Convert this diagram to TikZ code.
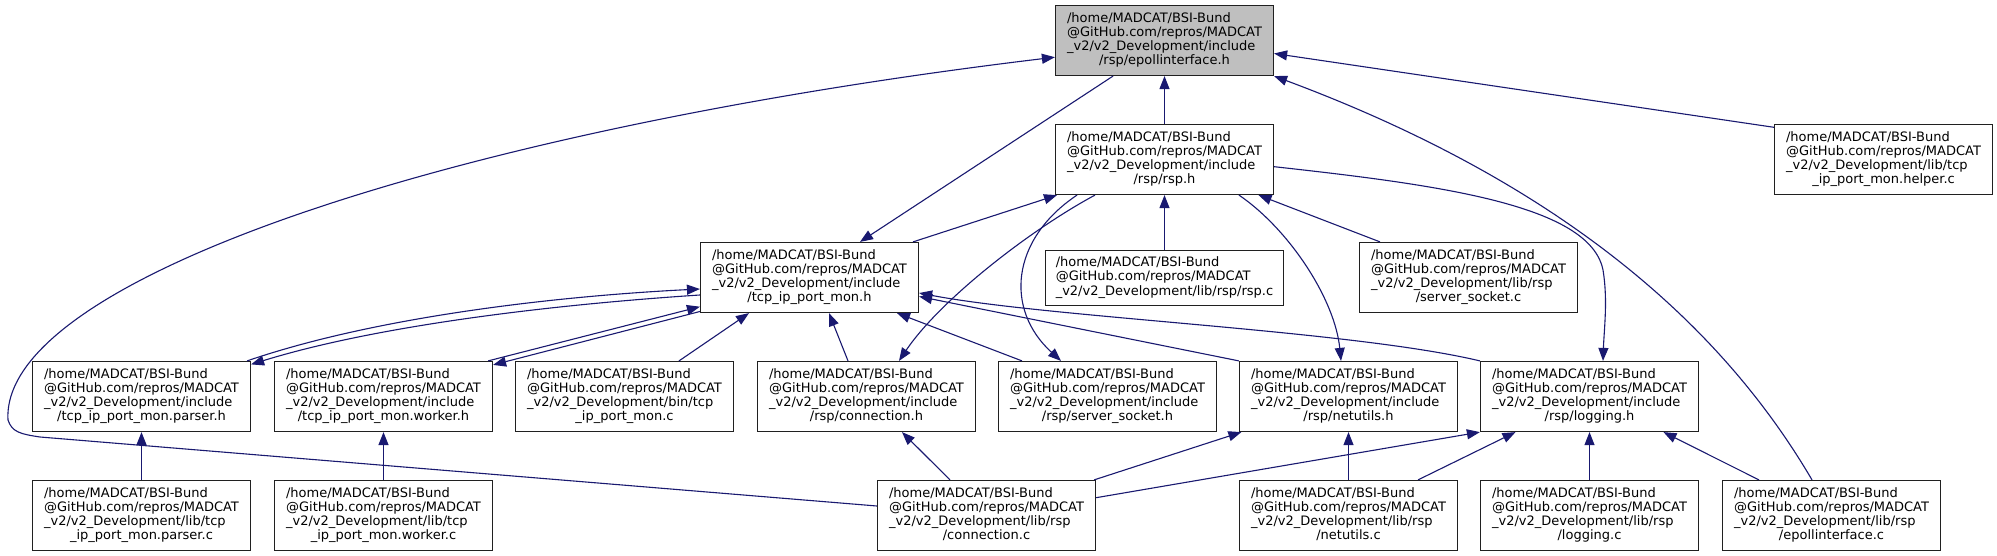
\documentclass[tikz,border=0pt]{standalone}
\usepackage{fontspec}
\setmainfont{DejaVu Sans}
\usetikzlibrary{arrows.meta}
\definecolor{edgec}{HTML}{191970}
\definecolor{rootfill}{HTML}{BFBFBF}
\definecolor{boxline}{HTML}{202020}
\newcommand\dxA{/home/MADCAT/BSI-Bund}
\newcommand\dxB{@GitHub.com/repros/MADCAT}
\newcommand\dxfour[4]{\begin{tabular}{@{}l@{}}#1\\#2\\#3\\\multicolumn{1}{@{}c@{}}{#4}\end{tabular}}
\newcommand\dxthree[3]{\begin{tabular}{@{}l@{}}#1\\#2\\\multicolumn{1}{@{}c@{}}{#3}\end{tabular}}
\newcommand\dxinc[1]{\dxfour{\dxA}{\dxB}{\_v2/v2\_Development/include}{#1}}
\newcommand\dxlib[2]{\dxfour{\dxA}{\dxB}{\_v2/v2\_Development/lib/#1}{#2}}
\begin{document}
\begin{tikzpicture}[x=1pt,y=-1pt,
  box/.style={draw=boxline, line width=1.2pt, fill=white, inner sep=0pt,
    minimum width=218pt, minimum height=70pt,
    font=\fontsize{13}{14.2}\selectfont},
  root/.style={box, fill=rootfill},
  lnk/.style={draw=edgec, line width=1.1pt},
  >={Triangle[length=13pt,width=10pt]}]
\useasboundingbox[fill=white] (0,0) rectangle (1997,556);
% nodes
\node[root] (epH) at (1164.5,40.5) {\dxinc{/rsp/epollinterface.h}};
\node[box] (rspH) at (1164.5,159.5) {\dxinc{/rsp/rsp.h}};
\node[box] (helper) at (1883.5,159.5) {\dxlib{tcp}{\_ip\_port\_mon.helper.c}};
\node[box] (tpmH) at (809.5,277.5) {\dxinc{/tcp\_ip\_port\_mon.h}};
\node[box, minimum width=238pt, minimum height=55pt] (rspc) at (1164.5,278) {\dxthree{\dxA}{\dxB}{\_v2/v2\_Development/lib/rsp/rsp.c}};
\node[box] (ssc) at (1468.5,277.5) {\dxlib{rsp}{/server\_socket.c}};
\node[box] (parserH) at (141.5,396.5) {\dxinc{/tcp\_ip\_port\_mon.parser.h}};
\node[box] (workerH) at (383.5,396.5) {\dxinc{/tcp\_ip\_port\_mon.worker.h}};
\node[box] (tpmc) at (624.5,396.5) {\dxfour{\dxA}{\dxB}{\_v2/v2\_Development/bin/tcp}{\_ip\_port\_mon.c}};
\node[box] (connH) at (866.5,396.5) {\dxinc{/rsp/connection.h}};
\node[box] (sshH) at (1107.5,396.5) {\dxinc{/rsp/server\_socket.h}};
\node[box] (netH) at (1348.5,396.5) {\dxinc{/rsp/netutils.h}};
\node[box] (logH) at (1589.5,396.5) {\dxinc{/rsp/logging.h}};
\node[box] (parserc) at (141.5,515.5) {\dxlib{tcp}{\_ip\_port\_mon.parser.c}};
\node[box] (workerc) at (383.5,515.5) {\dxlib{tcp}{\_ip\_port\_mon.worker.c}};
\node[box] (connc) at (986.5,515.5) {\dxlib{rsp}{/connection.c}};
\node[box] (netc) at (1348.5,515.5) {\dxlib{rsp}{/netutils.c}};
\node[box] (logc) at (1589.5,515.5) {\dxlib{rsp}{/logging.c}};
\node[box] (epc) at (1831.5,515.5) {\dxlib{rsp}{/epollinterface.c}};
% edges
\draw[lnk,<-] ([yshift=-16.7pt]epH.west) .. controls (450,130) and (0,280) .. (8,420) .. controls (12,432) and (20,434) .. (40,437) -- ([yshift=9.5pt]connc.west);
\draw[lnk,<-] (epH.south) -- (rspH.north);
\draw[lnk,<-] ([yshift=-13pt]epH.east) -- ([yshift=-3.4pt]helper.north west);
\draw[lnk,<-] (epH.south east) .. controls (1580,190) and (1730,340) .. ([xshift=-19.5pt]epc.north);
\draw[lnk,->] ([xshift=-51.5pt]epH.south) -- ([xshift=50.5pt]tpmH.north);
\draw[lnk,<-] ([xshift=-107.5pt]rspH.south) -- ([xshift=103.5pt]tpmH.north);
\draw[lnk,->] ([xshift=-87.5pt]rspH.south) .. controls (1010,240) and (1005,310) .. ([xshift=-46.5pt]sshH.north);
\draw[lnk,->] ([xshift=-69.5pt]rspH.south) .. controls (1030,230) and (940,300) .. ([xshift=32.5pt]connH.north);
\draw[lnk,->] ([xshift=74.5pt]rspH.south) .. controls (1290,230) and (1335,300) .. ([xshift=-7.5pt]netH.north);
\draw[lnk,<-] ([xshift=94pt]rspH.south) -- ([xshift=-88.5pt]ssc.north);
\draw[lnk,<-] (rspH.south) -- (rspc.north);
\draw[lnk,->] ([yshift=-7.2pt]rspH.east) .. controls (1440,185) and (1590,205) .. (1603,270) .. controls (1608,300) and (1604,330) .. ([xshift=13.5pt]logH.north);
\draw[lnk,<-] ([yshift=-11.5pt]tpmH.west) .. controls (560,296) and (378,316) .. ([xshift=-4pt]parserH.north east);
\draw[lnk,->] ([yshift=-17.5pt]tpmH.west) .. controls (562,304) and (382,324) .. ([yshift=-3.5pt]parserH.north east);
\draw[lnk,<-] ([yshift=-29.2pt]tpmH.west) -- ([xshift=-5pt]workerH.north east);
\draw[lnk,->] ([yshift=-34pt]tpmH.west) -- ([yshift=-4pt]workerH.north east);
\draw[lnk,<-] ([xshift=-60.5pt]tpmH.south) -- ([xshift=54.5pt]tpmc.north);
\draw[lnk,<-] ([xshift=19.5pt]tpmH.south) -- ([xshift=-18.5pt]connH.north);
\draw[lnk,<-] ([xshift=87.5pt]tpmH.south) -- ([xshift=-85.5pt]sshH.north);
\draw[lnk,<-] ([yshift=-15.5pt]tpmH.east) .. controls (1050,318) and (1350,330) .. (logH.north west);
\draw[lnk,<-] ([yshift=-19pt]tpmH.east) -- (netH.north west);
\draw[lnk,<-] ([xshift=35.5pt]connH.south) -- ([xshift=-36.5pt]connc.north);
\draw[lnk,<-] ([xshift=2.5pt]netH.south west) -- ([xshift=-2pt]connc.north east);
\draw[lnk,<-] (netH.south) -- (netc.north);
\draw[lnk,<-] (logH.south west) -- ([yshift=17.8pt]connc.east);
\draw[lnk,<-] ([xshift=-74pt]logH.south) -- ([xshift=69.5pt]netc.north);
\draw[lnk,<-] (logH.south) -- (logc.north);
\draw[lnk,<-] ([xshift=74pt]logH.south) -- ([xshift=-72.5pt]epc.north);
\draw[lnk,<-] (parserH.south) -- (parserc.north);
\draw[lnk,<-] (workerH.south) -- (workerc.north);
\end{tikzpicture}
\end{document}
